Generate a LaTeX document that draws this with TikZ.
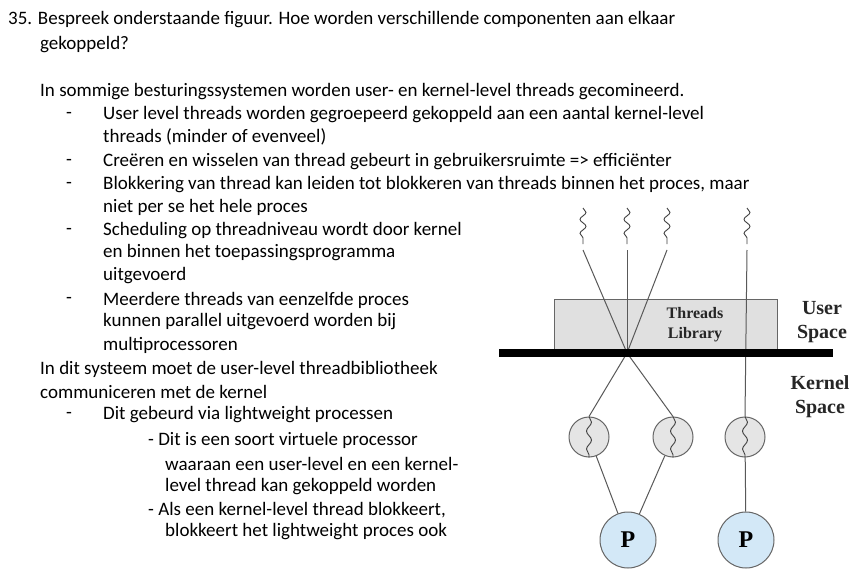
\documentclass[tikz,border=0pt]{standalone}
\usepackage{fontspec}
\setmainfont{Carlito}
\newfontfamily\serifd{Liberation Serif}
\usetikzlibrary{decorations.pathmorphing}
\definecolor{pblue}{HTML}{D3E8F7}
\begin{document}
\begin{tikzpicture}[x=1pt,y=-1pt,
  txt/.style={anchor=west,inner sep=0pt,font=\fontsize{19}{21}\selectfont},
  wav/.style={decorate,decoration={snake,amplitude=3pt,segment length=14pt},line width=0.9pt,draw=black!75},
  ln/.style={draw=black!65,line width=1pt},
  lwp/.style={circle,draw=black!60,fill=black!10,line width=1pt,minimum size=40pt,inner sep=0pt},
  proc/.style={circle,draw=black!60,fill=pblue,line width=1pt,minimum size=56pt,inner sep=0pt,font=\serifd\bfseries\fontsize{24}{26}\selectfont},
  lbl/.style={align=center,font=\serifd\bfseries\fontsize{20}{24}\selectfont,text=black!85}]
\useasboundingbox (0,0) rectangle (868,586);
\fill[white] (0,0) rectangle (868,586);
% text
\node[txt] (t1) at (8,20) {35. Bespreek onderstaande figuur. Hoe worden verschillende componenten aan elkaar};
\node[txt] (t2) at (40,45) {gekoppeld?};
\node[txt] (t3) at (40,92) {In sommige besturingssystemen worden user- en kernel-level threads gecomineerd.};
\node[txt] (d1) at (66,115) {-};
\node[txt] (t4) at (103,115) {User level threads worden gegroepeerd gekoppeld aan een aantal kernel-level};
\node[txt] (t5) at (103,137) {threads (minder of evenveel)};
\node[txt] (d2) at (66,162) {-};
\node[txt] (t6) at (103,162) {Creëren en wisselen van thread gebeurt in gebruikersruimte => efficiënter};
\node[txt] (d3) at (66,185) {-};
\node[txt] (t7) at (103,185) {Blokkering van thread kan leiden tot blokkeren van threads binnen het proces, maar};
\node[txt] (t8) at (103,207) {niet per se het hele proces};
\node[txt] (d4) at (66,231) {-};
\node[txt] (t9) at (103,231) {Scheduling op threadniveau wordt door kernel};
\node[txt] (t10) at (103,253) {en binnen het toepassingsprogramma};
\node[txt] (t11) at (103,276) {uitgevoerd};
\node[txt] (d5) at (66,300) {-};
\node[txt] (t12) at (103,300) {Meerdere threads van eenzelfde proces};
\node[txt] (t13) at (103,322) {kunnen parallel uitgevoerd worden bij};
\node[txt] (t14) at (103,345) {multiprocessoren};
\node[txt] (t15) at (40,369) {In dit systeem moet de user-level threadbibliotheek};
\node[txt] (t16) at (40,392) {communiceren met de kernel};
\node[txt] (d6) at (66,415) {-};
\node[txt] (t17) at (103,415) {Dit gebeurd via lightweight processen};
\node[txt] (t18) at (148,440) {- Dit is een soort virtuele processor};
\node[txt] (t19) at (165,464) {waaraan een user-level en een kernel-};
\node[txt] (t20) at (165,487) {level thread kan gekoppeld worden};
\node[txt] (t21) at (148,510) {- Als een kernel-level thread blokkeert,};
\node[txt] (t22) at (165,532) {blokkeert het lightweight proces ook};
% diagram
\node[draw=black!60,fill=black!12,line width=1pt,minimum width=223pt,minimum height=54pt,anchor=north west,inner sep=0pt] (lib) at (554,299) {};
\node[lbl,font=\serifd\bfseries\fontsize{16}{20}\selectfont] (libt) at (695,325) {Threads\\Library};
\coordinate (x) at (627,353);
\coordinate (u1) at (583,250); \coordinate (u2) at (627,250);
\coordinate (u3) at (667,250); \coordinate (u4) at (747,250);
\draw[wav] (583,208) -- (583,244);
\draw[wav] (627,208) -- (627,244);
\draw[wav] (667,208) -- (667,244);
\draw[wav] (747,208) -- (747,244);
\node[lwp] (l1) at (589,437) {};
\node[lwp] (l2) at (673,437) {};
\node[lwp] (l3) at (745,437) {};
\node[proc] (p1) at (628,540) {P};
\node[proc] (p2) at (746,540) {P};
\draw[ln] (u1) -- (x) -- (l2.north);
\draw[ln] (u3) -- (x) -- (l1.north);
\draw[ln] (u2) -- (x);
\draw[ln] (u4) -- (l3.north);
\draw[ln] (l1) -- (p1); \draw[ln] (l2) -- (p1); \draw[ln] (l3) -- (p2);
\foreach \c in {l1,l2,l3}{\draw[wav,decoration={snake,amplitude=2.5pt,segment length=18pt}] (\c.north) -- (\c.south);}
\fill[black] (499,349) rectangle (833,357);
\node[lbl] (us) at (822,322) {User\\Space};
\node[lbl] (ks) at (820,397) {Kernel\\Space};
\end{tikzpicture}
\end{document}
